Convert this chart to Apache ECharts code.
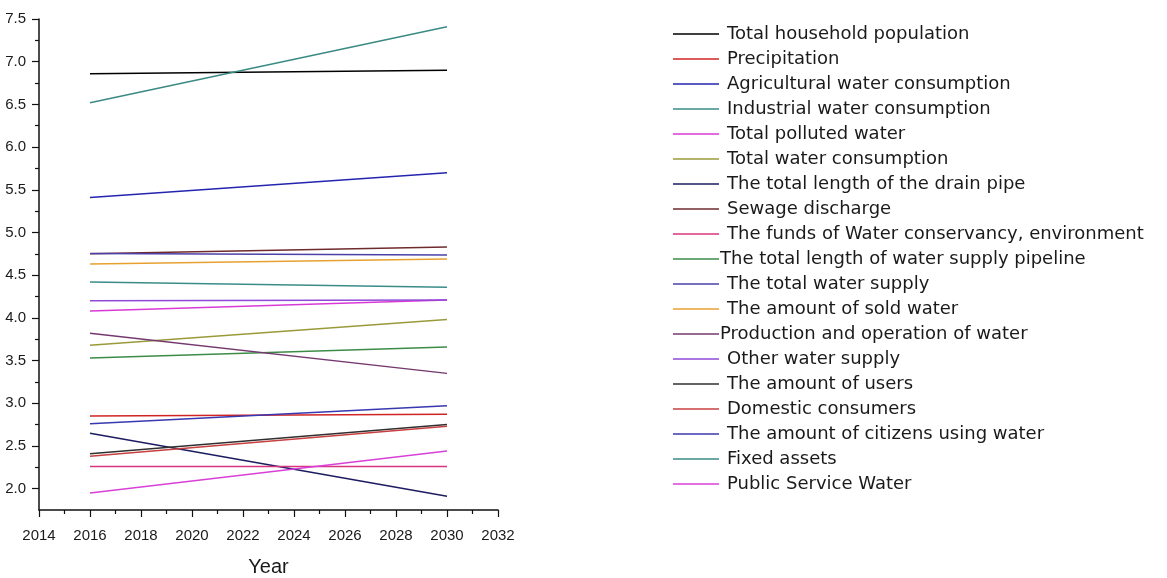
<!DOCTYPE html>
<html>
<head>
<meta charset="utf-8">
<title>Water indicators 2016-2030</title>
<script src="https://cdn.jsdelivr.net/npm/echarts@6/dist/echarts.min.js"></script>
<style>
  html, body { margin: 0; padding: 0; background: #ffffff; }
  #chart { width: 1167px; height: 578px; }
</style>
</head>
<body>
<div id="chart"></div>
<script>
// Forecast years (start and end of each trend line)
const years = [2016, 2030];

const seriesNames = [
  'Total household population',
  'Precipitation',
  'Agricultural water consumption',
  'Industrial water consumption',
  'Total polluted water',
  'Total water consumption',
  'The total length of the drain pipe',
  'Sewage discharge',
  'The funds of Water conservancy, environment',
  'The total length of water supply pipeline',
  'The total water supply',
  'The amount of sold water',
  'Production and operation of water',
  'Other water supply',
  'The amount of users',
  'Domestic consumers',
  'The amount of citizens using water',
  'Fixed assets',
  'Public Service Water'
];

// Values in 2016
const values2016 = [6.86, 2.85, 5.41, 4.42, 4.08, 3.68, 2.65, 4.75, 2.26, 3.53,
                    4.755, 4.63, 3.82, 4.20, 2.41, 2.38, 2.76, 6.52, 1.95];
// Values in 2030
const values2030 = [6.90, 2.87, 5.70, 4.36, 4.21, 3.98, 1.91, 4.83, 2.26, 3.66,
                    4.735, 4.69, 3.35, 4.21, 2.75, 2.73, 2.97, 7.41, 2.44];

// Axis ticks
const xTickLabels = [2014, 2016, 2018, 2020, 2022, 2024, 2026, 2028, 2030, 2032];
const yTickLabels = [2.0, 2.5, 3.0, 3.5, 4.0, 4.5, 5.0, 5.5, 6.0, 6.5, 7.0, 7.5];
const yMinorTicks = [2.25, 2.75, 3.25, 3.75, 4.25, 4.75, 5.25, 5.75, 6.25, 6.75, 7.25];

const palette = [
  '#000000', '#d02424', '#2424b0', '#3a8c88', '#d83ad8', '#9a9a3a', '#1c1c60',
  '#6e2a2e', '#d8357f', '#3c8c48', '#4a40a8', '#e8a030', '#74386e', '#9048d8',
  '#303030', '#c84040', '#3838b0', '#3a8a84', '#d840d8'
];

// Legend entries whose text sits right against the sample line
const tightLegendEntries = [
  'The total length of water supply pipeline',
  'Production and operation of water'
];

const tickFont = { fontFamily: 'Liberation Sans, Arial, sans-serif', fontSize: 15, color: '#1a1a1a' };

const series = seriesNames.map((name, i) => ({
  name: name,
  type: 'line',
  xAxisIndex: 0,
  yAxisIndex: 0,
  symbol: 'none',
  animation: false,
  lineStyle: { color: palette[i], width: 1.5 },
  itemStyle: { color: palette[i] },
  data: years.map((yr, k) => [yr, k === 0 ? values2016[i] : values2030[i]])
}));

const legendData = seriesNames.map(name =>
  tightLegendEntries.includes(name)
    ? { name: name, textStyle: { padding: [0, 0, 0, -4] } }
    : { name: name }
);

const chart = echarts.init(document.getElementById('chart'), null, { renderer: 'canvas' });

chart.setOption({
  backgroundColor: '#ffffff',
  animation: false,
  grid: { left: 39, top: 19, width: 459, height: 491, containLabel: false, outerBoundsMode: 'none' },
  legend: {
    orient: 'vertical',
    left: 673,
    top: 25,
    icon: 'rect',
    itemWidth: 46,
    itemHeight: 1.6,
    itemGap: 7,
    padding: 0,
    selectedMode: false,
    data: legendData,
    textStyle: {
      fontFamily: 'DejaVu Sans, sans-serif',
      fontSize: 18,
      lineHeight: 18,
      color: '#1a1a1a',
      padding: [0, 0, 0, 3]
    }
  },
  xAxis: [{
    type: 'value',
    min: 2014,
    max: 2032,
    interval: 2,
    name: 'Year',
    nameLocation: 'middle',
    nameGap: 47,
    nameTextStyle: { fontFamily: 'Liberation Sans, Arial, sans-serif', fontSize: 20, color: '#1a1a1a' },
    axisLine: { show: true, onZero: false, lineStyle: { color: '#111111', width: 1.5 } },
    axisTick: { show: true, inside: false, length: 7, lineStyle: { color: '#111111', width: 1.2 } },
    minorTick: { show: true, splitNumber: 2, length: 4, lineStyle: { color: '#111111', width: 1.2 } },
    axisLabel: {
      show: true,
      margin: 18,
      customValues: xTickLabels,
      formatter: v => String(v),
      ...tickFont
    },
    splitLine: { show: false },
    minorSplitLine: { show: false }
  }],
  yAxis: [{
    type: 'value',
    min: 1.75,
    max: 7.5,
    position: 'left',
    axisLine: { show: true, onZero: false, lineStyle: { color: '#111111', width: 1.5 } },
    axisTick: { show: true, inside: false, length: 7, customValues: yTickLabels, lineStyle: { color: '#111111', width: 1.2 } },
    axisLabel: {
      show: true,
      margin: 13,
      customValues: yTickLabels,
      formatter: v => Number(v).toFixed(1),
      ...tickFont
    },
    splitLine: { show: false }
  }, {
    type: 'value',
    min: 1.75,
    max: 7.5,
    position: 'left',
    axisLine: { show: false },
    axisTick: { show: true, inside: false, length: 4, customValues: yMinorTicks, lineStyle: { color: '#111111', width: 1.2 } },
    axisLabel: { show: false },
    splitLine: { show: false }
  }],
  series: series
});
</script>
</body>
</html>
